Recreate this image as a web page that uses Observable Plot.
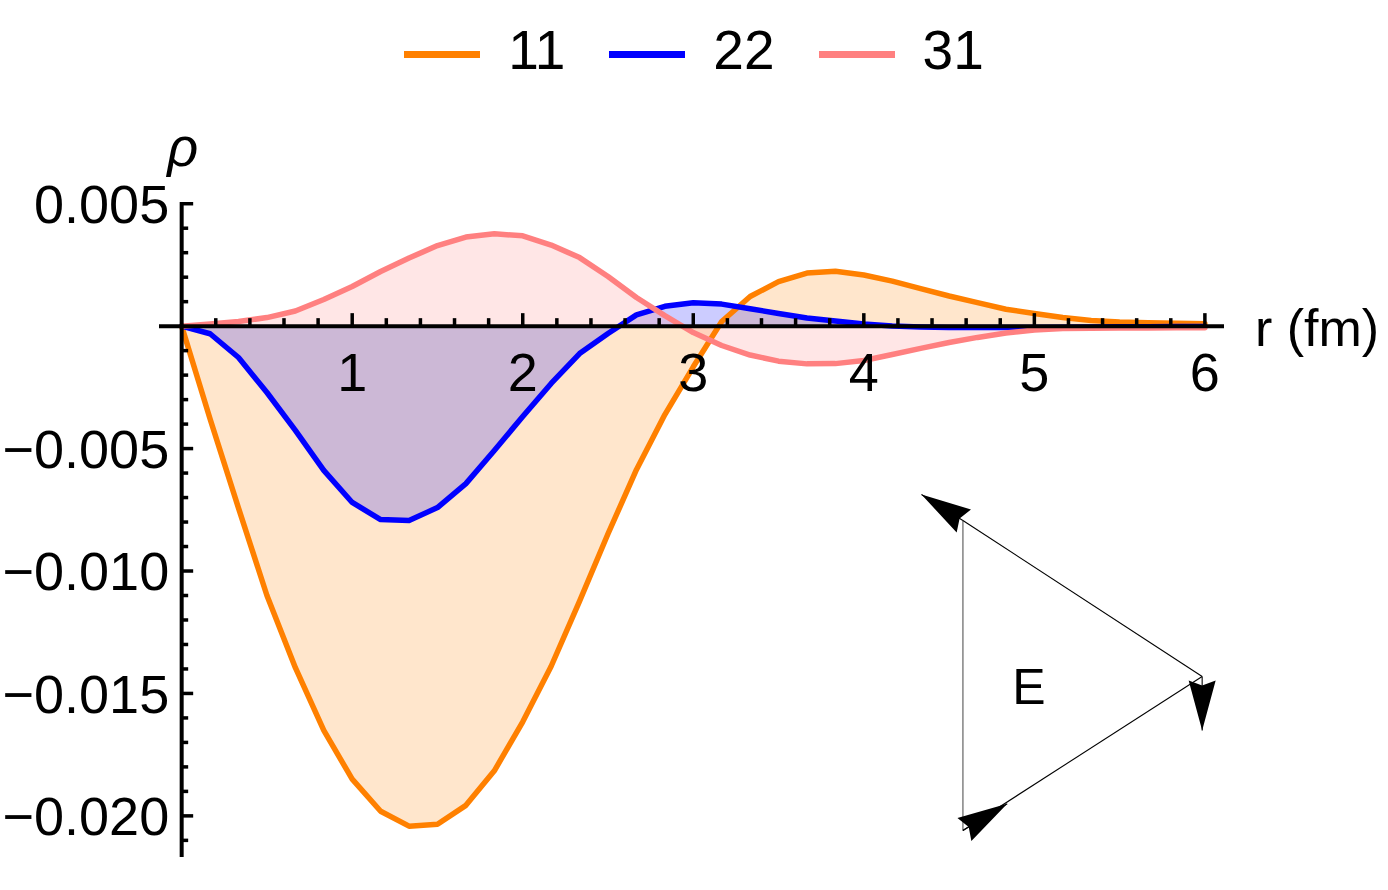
<!DOCTYPE html>
<html>
<head>
<meta charset="utf-8">
<script src="https://cdn.jsdelivr.net/npm/d3@7"></script>
<script src="https://cdn.jsdelivr.net/npm/@observablehq/plot@0.6"></script>
<style>
  html, body { margin: 0; padding: 0; background: #fff; overflow: hidden; }
  body { font-family: "Liberation Sans", Arial, sans-serif; }
  #legend { height: 100px; display: flex; justify-content: center; align-items: center; }
  .item { display: flex; align-items: center; margin: 0 22px; }
  .sw { width: 76px; height: 7px; position: relative; top: 4px; }
  .lab { font-size: 55px; line-height: 1; margin-left: 28px; color: #000; }
</style>
</head>
<body>
<div id="legend"></div>
<div id="chart"></div>
<script>
// ---- data ----
const r = [0, 0.1667, 0.3333, 0.5, 0.6667, 0.8333, 1, 1.1667, 1.3333, 1.5, 1.6667, 1.8333,
           2, 2.1667, 2.3333, 2.5, 2.6667, 2.8333, 3, 3.1667, 3.3333, 3.5, 3.6667, 3.8333,
           4, 4.1667, 4.3333, 4.5, 4.6667, 4.8333, 5, 5.1667, 5.3333, 5.5, 5.6667, 5.8333, 6];
const rho11 = [0, -0.00379, -0.00743, -0.0110, -0.01395, -0.01651, -0.01850, -0.01981, -0.02042,
               -0.02034, -0.01957, -0.01816, -0.01616, -0.01389, -0.01123, -0.00848, -0.00586,
               -0.00361, -0.00166, 0.00019, 0.00121, 0.00182, 0.00217, 0.00224, 0.00209, 0.00184,
               0.00153, 0.00123, 0.00096, 0.00069, 0.00052, 0.00035, 0.00023, 0.00017, 0.00014,
               0.00012, 0.00010];
const rho22 = [0, -0.00031, -0.00128, -0.00271, -0.00426, -0.00589, -0.00720, -0.00790, -0.00794,
               -0.00741, -0.00643, -0.00508, -0.00369, -0.00234, -0.00112, -0.00030, 0.00046,
               0.00081, 0.00096, 0.00090, 0.00071, 0.00052, 0.00033, 0.00021, 0.00009, 0.00001,
               -0.00003, -0.00005, -0.00006, -0.00006, -0.00005, -0.00004, -0.00003, -0.00002,
               -0.00002, -0.00001, -0.00001];
const rho31 = [0, 0.00009, 0.00019, 0.00035, 0.00062, 0.00109, 0.00162, 0.00223, 0.00278, 0.00329,
               0.00364, 0.00377, 0.00369, 0.00331, 0.00280, 0.00203, 0.00117, 0.00043, -0.00026,
               -0.00079, -0.00118, -0.00143, -0.00154, -0.00153, -0.00140, -0.00116, -0.00091,
               -0.00067, -0.00046, -0.00028, -0.00016, -0.00010, -0.00009, -0.00008, -0.00008,
               -0.00007, -0.00007];
const seriesNames = ["11", "22", "31"];
const seriesColors = ["#ff8000", "#0000ff", "#ff8080"];

const xTicks = [1, 2, 3, 4, 5, 6];
const xTickLabels = ["1", "2", "3", "4", "5", "6"];
const xMinorTicks = [0.2, 0.4, 0.6, 0.8, 1.2, 1.4, 1.6, 1.8, 2.2, 2.4, 2.6, 2.8, 3.2, 3.4, 3.6, 3.8,
                     4.2, 4.4, 4.6, 4.8, 5.2, 5.4, 5.6, 5.8];
const yTicks = [0.005, -0.005, -0.010, -0.015, -0.020];
const yTickLabels = ["0.005", "\u22120.005", "\u22120.010", "\u22120.015", "\u22120.020"];
const yMinorTicks = [0.004, 0.003, 0.002, 0.001, -0.001, -0.002, -0.003, -0.004, -0.006, -0.007,
                     -0.008, -0.009, -0.011, -0.012, -0.013, -0.014, -0.016, -0.017, -0.018,
                     -0.019, -0.021];
const xLabel = "r (fm)";
const yLabel = "\u03c1";

// inset diagram (triangle with arrows), in chart coordinates
const triVertices = {top: [4.581, -0.007936], right: [5.984, -0.014306], bottom: [4.581, -0.020595]};
const triArrows = [
  {x1: 4.581, y1: -0.007936, x2: 4.338, y2: -0.006876},
  {x1: 5.984, y1: -0.014306, x2: 5.984, y2: -0.016511},
  {x1: 4.581, y1: -0.020595, x2: 4.841, y2: -0.019504}
];
const triLabel = [{x: 4.968, y: -0.014714, text: "E"}];

// ---- layout ----
const FONT = "'Liberation Sans', Arial, sans-serif";
const W = 1388, H = 790, mL = 159, mR = 164, mT = 102, mB = 33;
const xDom = [-0.13, 6.115], yDom = [-0.0217, 0.00505];
const pxX = (W - mL - mR) / (xDom[1] - xDom[0]);
const pxY = (H - mT - mB) / (yDom[1] - yDom[0]);
const dX = px => px / pxX, dY = px => px / pxY;

// legend
const leg = document.getElementById("legend");
seriesNames.forEach((n, i) => {
  const it = document.createElement("div"); it.className = "item";
  const sw = document.createElement("span"); sw.className = "sw"; sw.style.background = seriesColors[i];
  const lb = document.createElement("span"); lb.className = "lab"; lb.textContent = n;
  it.appendChild(sw); it.appendChild(lb); leg.appendChild(it);
});

const rows = seriesNames.flatMap((n, k) => {
  const vals = [rho11, rho22, rho31][k];
  return r.map((x, i) => ({r: x, rho: vals[i], name: n}));
});

function head(deg) {
  const a = deg * Math.PI / 180, c = Math.cos(a), s = Math.sin(a);
  const pts = [[0, 0], [13.5, 50], [0, 45], [-13.5, 50]];
  return {draw(ctx) {
    pts.forEach(([x, y], i) => {
      const X = x * c - y * s, Y = x * s + y * c;
      if (i) ctx.lineTo(X, Y); else ctx.moveTo(X, Y);
    });
    ctx.closePath();
  }};
}
const headMarks = triArrows.map(a => {
  const dx = (a.x2 - a.x1) * pxX, dy = -(a.y2 - a.y1) * pxY;
  const deg = Math.atan2(dx, -dy) * 180 / Math.PI;
  return Plot.dot([a], {x: "x2", y: "y2", symbol: head(deg), fill: "black", stroke: "none", r: 5});
});
const edges = [
  {x1: triVertices.top[0], y1: triVertices.top[1], x2: triVertices.right[0], y2: triVertices.right[1]},
  {x1: triVertices.bottom[0], y1: triVertices.bottom[1], x2: triVertices.right[0], y2: triVertices.right[1]}
];
const leftEdge = [{x1: triVertices.top[0], y1: triVertices.top[1], x2: triVertices.bottom[0], y2: triVertices.bottom[1]}];

const chart = Plot.plot({
  width: W, height: H,
  marginLeft: mL, marginRight: mR, marginTop: mT, marginBottom: mB,
  x: {domain: xDom, axis: null},
  y: {domain: yDom, axis: null},
  color: {domain: seriesNames, range: seriesColors},
  style: {fontFamily: FONT, background: "white", overflow: "visible", color: "black"},
  marks: [
    Plot.areaY(rows, {x: "r", y1: 0, y2: "rho", z: "name", fill: "name", fillOpacity: 0.2, curve: "linear"}),
    Plot.line(rows, {x: "r", y: "rho", z: "name", stroke: "name", strokeWidth: 5.5, curve: "linear"}),
    // axes
    Plot.ruleY([0], {stroke: "black", strokeWidth: 4}),
    Plot.ruleX([0], {stroke: "black", strokeWidth: 4}),
    Plot.ruleX(xTicks, {x: d => d, y1: 0, y2: dY(12.5), stroke: "black", strokeWidth: 3.5}),
    Plot.ruleX(xMinorTicks, {x: d => d, y1: 0, y2: dY(7.5), stroke: "black", strokeWidth: 3.5}),
    Plot.ruleY(yTicks, {y: d => d, x1: 0, x2: dX(12), stroke: "black", strokeWidth: 3.5}),
    Plot.ruleY(yMinorTicks, {y: d => d, x1: 0, x2: dX(7), stroke: "black", strokeWidth: 3.5}),
    Plot.text(xTicks, {x: d => d, y: 0, text: (d, i) => xTickLabels[i], dy: 47.5, fontSize: 54, fill: "black"}),
    Plot.text(yTicks, {x: 0, y: d => d, text: (d, i) => yTickLabels[i], textAnchor: "end", dx: -12.5, dy: 2, fontSize: 54, fill: "black"}),
    Plot.text([yLabel], {x: 0, y: yDom[1], text: d => d, lineAnchor: "bottom", dy: -37, dx: 1, fontSize: 54, fontStyle: "italic", fill: "black"}),
    Plot.text([xLabel], {x: xDom[1], y: 0, text: d => d, textAnchor: "start", lineAnchor: "bottom", dx: 30.5, dy: 19.4, fontSize: 52, fill: "black"}),
    // inset
    Plot.link(leftEdge, {x1: "x1", y1: "y1", x2: "x2", y2: "y2", stroke: "#8a8a8a", strokeWidth: 1.6}),
    Plot.link(edges, {x1: "x1", y1: "y1", x2: "x2", y2: "y2", stroke: "black", strokeWidth: 1.1}),
    Plot.link(triArrows, {x1: "x1", y1: "y1", x2: "x2", y2: "y2", stroke: "black", strokeWidth: 1.1}),
    ...headMarks,
    Plot.text(triLabel, {x: "x", y: "y", text: "text", dy: 2, fontSize: 50, fill: "black"})
  ]
});
document.getElementById("chart").appendChild(chart);
</script>
</body>
</html>
